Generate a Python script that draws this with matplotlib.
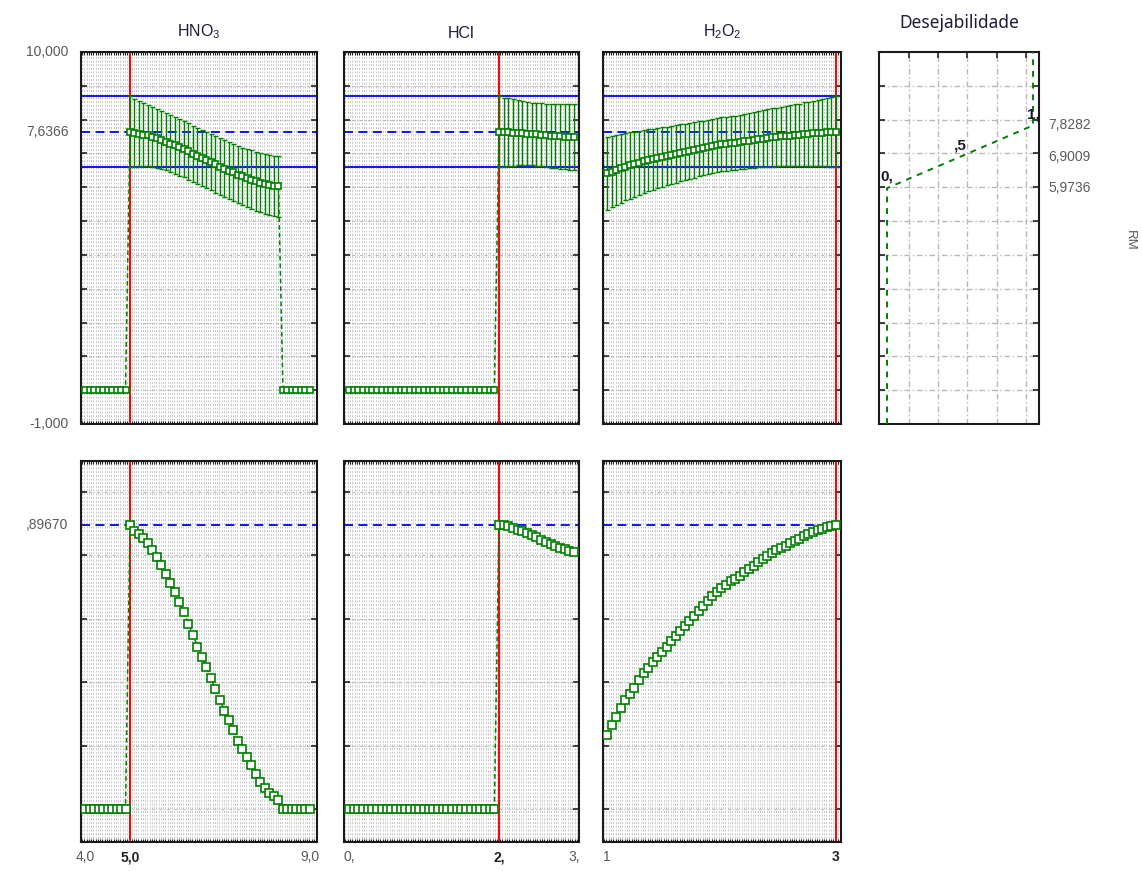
import numpy as np
import matplotlib.pyplot as plt

plt.rcParams['font.family'] = ['Liberation Sans', 'DejaVu Sans']
plt.rcParams['mathtext.default'] = 'regular'

# desirability for RM: linear between low (d=0), mid (d=0.5) and high (d=1)
rm_low, rm_mid, rm_high = 5.9736, 6.9009, 7.8282
rm_pred = 7.6366
d_pred = 0.8967
ci_lower, ci_upper = 6.59, 8.69

# HNO3 profile, grid 4.0 .. 9.0, current value 5.0
hno3_x = np.round(np.arange(4.0, 9.0001, 0.1), 2)
hno3_rm = np.array([0.0] * 10 + [
    7.637, 7.602, 7.580, 7.559, 7.531, 7.491, 7.448, 7.402, 7.350, 7.294,
    7.244, 7.183, 7.127, 7.058, 6.994, 6.923, 6.864, 6.803, 6.738, 6.675,
    6.612, 6.549, 6.493, 6.437, 6.372, 6.322, 6.276, 6.229, 6.178, 6.131,
    6.096, 6.070, 6.048, 6.026] + [0.0] * 7)
hno3_ci = [1.05, 1.01, 0.97, 0.94, 0.91, 0.89, 0.87, 0.86, 0.85, 0.84,
           0.84, 0.84, 0.83, 0.83, 0.83, 0.83, 0.83, 0.83, 0.83, 0.83,
           0.84, 0.84, 0.84, 0.85, 0.85, 0.85, 0.86, 0.86, 0.87, 0.87,
           0.88, 0.88, 0.89, 0.90]
hno3_cur = 5.0

# HCl profile, grid 0 .. 3, current value 2
hcl_x = np.linspace(0, 3, 49)
hcl_rm = np.array([0.0] * 32 + [
    7.6366, 7.634, 7.628, 7.619, 7.608, 7.598, 7.589, 7.576, 7.563, 7.550,
    7.537, 7.524, 7.513, 7.502, 7.493, 7.483, 7.476])
hcl_ci = [1.05, 1.02, 1.00, 0.98, 0.96, 0.95, 0.94, 0.93, 0.93, 0.93,
          0.93, 0.94, 0.94, 0.95, 0.96, 0.97, 0.98]
hcl_cur = 2.0

# H2O2 profile, grid 1 .. 3, current value 3
h2o2_x = np.linspace(1, 3, 51)
h2o2_rm = np.array([
    6.409, 6.465, 6.515, 6.563, 6.610, 6.645, 6.680, 6.728, 6.767, 6.801,
    6.834, 6.864, 6.892, 6.923, 6.957, 6.988, 7.018, 7.047, 7.075, 7.105,
    7.135, 7.164, 7.192, 7.220, 7.246, 7.268, 7.287, 7.305, 7.320, 7.337,
    7.361, 7.379, 7.398, 7.418, 7.439, 7.457, 7.472, 7.487, 7.502, 7.515,
    7.528, 7.543, 7.556, 7.569, 7.582, 7.595, 7.606, 7.615, 7.624, 7.632,
    7.6366])
h2o2_ci = [1.08, 1.06, 1.04, 1.02, 1.00, 0.98, 0.96, 0.95, 0.93, 0.92,
           0.90, 0.89, 0.88, 0.87, 0.86, 0.85, 0.84, 0.83, 0.82, 0.82,
           0.81, 0.81, 0.80, 0.80, 0.80, 0.80, 0.80, 0.80, 0.80, 0.81,
           0.81, 0.82, 0.82, 0.83, 0.84, 0.85, 0.86, 0.87, 0.88, 0.89,
           0.90, 0.91, 0.92, 0.94, 0.95, 0.97, 0.98, 1.00, 1.02, 1.03,
           1.05]
h2o2_cur = 3.0

# tick labels under each factor column: (text, value, bold)
hno3_labels = [('4,0', 4.0, False), ('5,0', 5.0, True), ('9,0', 9.0, False)]
hcl_labels = [('0,', 0.0, False), ('2,', 2.0, True), ('3,', 3.0, False)]
h2o2_labels = [('1', 1.0, False), ('3', 3.0, True)]

GREEN = '#008000'
GRAY_TXT = '#5a5a5a'
W, H = 1142, 871
fig = plt.figure(figsize=(W / 100, H / 100), dpi=100)


def add_axes_px(x0, y0, x1, y1):
    return fig.add_axes([x0 / W, 1 - y1 / H, (x1 - x0) / W, (y1 - y0) / H])


def desirability(rm):
    return np.interp(rm, [rm_low, rm_mid, rm_high], [0.0, 0.5, 1.0])


def style_panel(ax, xlim, ylim, yticks, step):
    ax.set_xlim(xlim)
    ax.set_ylim(ylim)
    # fine dotted background
    xs = np.arange(xlim[0] + step / 4, xlim[1], step / 2)
    ax.vlines(xs, 0, 1, transform=ax.get_xaxis_transform(), colors='#c6c6c6',
              lw=0.7, linestyles=(0, (2, 1.8)), zorder=0)
    ax.hlines(yticks, 0, 1, transform=ax.get_yaxis_transform(), colors='#b4b4b4',
              lw=0.7, linestyles=(0, (3, 2, 1, 2)), zorder=0)
    ax.set_xticks([])
    ax.set_xticks(xs, minor=True)
    ax.set_yticks(yticks)
    ax.set_yticklabels([])
    ax.tick_params(axis='y', which='major', direction='in', left=True, right=True,
                   length=4, width=1.2, color='#222222')
    ax.tick_params(axis='x', which='minor', direction='in', top=True, bottom=True,
                   length=2.5, width=0.8, color='#222222')
    for s in ax.spines.values():
        s.set_linewidth(1.5)
        s.set_color('#1a1a1a')


def draw_profile(ax, xs, ys, ci=None, ms=4.5):
    ax.plot(xs, ys, color=GREEN, lw=1.1, ls=(0, (3, 2)), zorder=3)
    if ci is not None:
        fit = ys > 0
        ax.errorbar(xs[fit], ys[fit], yerr=ci, fmt='none', ecolor=GREEN,
                    elinewidth=1.0, capsize=1.8, capthick=1.0, zorder=3)
    ax.plot(xs, ys, ls='none', marker='s', ms=ms, mfc='white', mec=GREEN,
            mew=1.2, zorder=4)


columns = [
    ('HNO$_3$', hno3_x, hno3_rm, hno3_ci, hno3_cur, hno3_labels,
     (81, 317), (3.911, 9.156), 0.1),
    ('HCl', hcl_x, hcl_rm, hcl_ci, hcl_cur, hcl_labels,
     (344, 579), (-0.067, 3.067), 0.0625),
    ('H$_2$O$_2$', h2o2_x, h2o2_rm, h2o2_ci, h2o2_cur, h2o2_labels,
     (603, 841), (0.965, 3.044), 0.04),
]

for i, (title, xs, rm, ci, cur, labels, (px0, px1), xlim, step) in enumerate(columns):
    # response profile
    ax = add_axes_px(px0, 52, px1, 424)
    style_panel(ax, xlim, (-1, 10), list(range(-1, 11)), step)
    ax.axhline(ci_upper, color='#0000ff', lw=1.3, zorder=2)
    ax.axhline(ci_lower, color='#0000ff', lw=1.3, zorder=2)
    ax.axhline(rm_pred, color='#0000ff', lw=1.3, ls=(0, (5, 3)), zorder=2)
    ax.axvline(cur, color='#ff0000', lw=1.4, zorder=2.5)
    draw_profile(ax, xs, rm, ci, ms=4.2)
    ax.text(0.5, 1.03, title, transform=ax.transAxes, ha='center', va='bottom',
            fontsize=11.5, color='#1c1c3a')
    if i == 0:
        for txt, yv in [('10,000', 10), ('7,6366', rm_pred), ('-1,000', -1)]:
            ax.annotate(txt, xy=(0, yv), xycoords=('axes fraction', 'data'),
                        xytext=(-9, 0), textcoords='offset points', ha='right',
                        va='center', fontsize=10, color=GRAY_TXT)

    # desirability profile
    axd = add_axes_px(px0, 461, px1, 842)
    style_panel(axd, xlim, (-0.104, 1.098), [0, 0.2, 0.4, 0.6, 0.8, 1.0], step)
    axd.axhline(d_pred, color='#0000ff', lw=1.3, ls=(0, (5, 3)), zorder=2)
    axd.axvline(cur, color='#ff0000', lw=1.4, zorder=2.5)
    draw_profile(axd, xs, desirability(rm), None, ms=5.6)
    if i == 0:
        axd.annotate(',89670', xy=(0, d_pred), xycoords=('axes fraction', 'data'),
                     xytext=(-9, 0), textcoords='offset points', ha='right',
                     va='center', fontsize=10, color=GRAY_TXT)
    for txt, xv, bold in labels:
        axd.annotate(txt, xy=(xv, 0), xycoords=('data', 'axes fraction'),
                     xytext=(0, -11), textcoords='offset points', ha='center',
                     va='center', fontsize=10,
                     fontweight='bold' if bold else 'normal',
                     color='#222222' if bold else GRAY_TXT)

# desirability function of RM
desir_d = [0.0, 0.0, 0.5, 1.0, 1.0]
desir_rm = [-1.0, rm_low, rm_mid, rm_high, 10.0]
desir_marks = [('0,', 0.0, rm_low), (',5', 0.5, rm_mid), ('1,', 1.0, rm_high)]

axf = add_axes_px(879, 52, 1039, 424)
axf.set_xlim(-0.055, 1.041)
axf.set_ylim(-1, 10)
grid_x = [0.15, 0.35, 0.55, 0.75, 0.95]
grid_y = list(range(0, 10))
axf.vlines(grid_x, 0, 1, transform=axf.get_xaxis_transform(), colors='#b8b8b8',
           lw=1.0, linestyles=(0, (4, 2, 1, 2)), zorder=0)
axf.hlines(grid_y, 0, 1, transform=axf.get_yaxis_transform(), colors='#b8b8b8',
           lw=1.0, linestyles=(0, (4, 2, 1, 2)), zorder=0)
axf.set_xticks(grid_x)
axf.set_xticklabels([])
axf.set_yticks(grid_y)
axf.set_yticklabels([])
axf.tick_params(axis='x', direction='in', top=True, bottom=False, length=4,
                width=1.2, color='#222222')
axf.tick_params(axis='y', direction='in', left=True, right=True, length=4,
                width=1.2, color='#222222')
for s in axf.spines.values():
    s.set_linewidth(1.5)
    s.set_color('#1a1a1a')
axf.plot(desir_d, desir_rm, color=GREEN, lw=1.4, ls=(0, (3, 3)), zorder=3)
for txt, dv, rv in desir_marks:
    axf.annotate(txt, xy=(dv, rv), xytext=(0, 3), textcoords='offset points',
                 ha='center', va='bottom', fontsize=11, fontweight='bold',
                 color='#1a1a2a')
for rv in [rm_high, rm_mid, rm_low]:
    axf.annotate(f'{rv:.4f}'.replace('.', ','), xy=(1, rv),
                 xycoords=('axes fraction', 'data'), xytext=(7, 0),
                 textcoords='offset points', ha='left', va='center',
                 fontsize=10, color=GRAY_TXT)
axf.text(0.5, 1.055, 'Desejabilidade', transform=axf.transAxes, ha='center',
         va='bottom', fontsize=12.5, fontweight='bold', color='#1c1c3a',
         family=['Noto Sans', 'DejaVu Sans'])
fig.text(1130 / W, 1 - 240 / H, 'RM', rotation=270, ha='center', va='center',
         fontsize=9.5, color=GRAY_TXT)

fig.savefig('out.png', dpi=100)
